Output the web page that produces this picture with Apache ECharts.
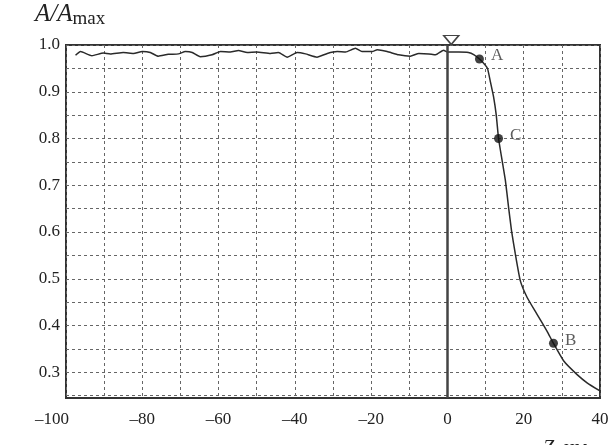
<!DOCTYPE html>
<html>
<head>
<meta charset="utf-8">
<script src="https://cdn.jsdelivr.net/npm/echarts@6/dist/echarts.min.js"></script>
<style>
  html, body { margin: 0; padding: 0; background: #fff; }
  #chart { width: 615px; height: 445px; }
</style>
</head>
<body>
<div id="chart"></div>
<script>
// noisy plateau before the edge, then the fall-off
const zValues = [-97.5, -96.2, -93.2, -90.2, -88.4, -85, -82.3, -80, -77.9, -75.8, -73.2, -70.5, -68.7, -66.9,
  -64.8, -61.7, -59.5, -56.9, -54.8, -52.5, -50, -46.4, -44.3, -42, -39.4, -37.2, -34.2, -31.5, -28.9, -26.7,
  -24.1, -22.4, -19.7, -18.4, -15.8, -12.8, -9.7, -7.5, -4.9, -3.1, -1, 0,
  3, 5.5, 7, 8.4, 9.6, 10.5, 11.3, 12.1, 12.8, 13.4, 14.3, 15.2, 16, 16.8, 17.8, 19.1, 20.9, 23.5, 26.1,
  27.8, 30.5, 34.0, 36.7, 40];
const ampValues = [0.978, 0.986, 0.977, 0.983, 0.981, 0.984, 0.982, 0.986, 0.984, 0.976, 0.980, 0.981, 0.986, 0.984,
  0.975, 0.979, 0.986, 0.985, 0.988, 0.984, 0.985, 0.982, 0.984, 0.974, 0.984, 0.981, 0.974, 0.982, 0.986, 0.985,
  0.993, 0.986, 0.986, 0.990, 0.986, 0.979, 0.976, 0.982, 0.981, 0.979, 0.989, 0.985,
  0.985, 0.984, 0.979, 0.970, 0.960, 0.950, 0.920, 0.889, 0.850, 0.800, 0.755, 0.710, 0.655, 0.603, 0.553,
  0.496, 0.460, 0.424, 0.388, 0.362, 0.324, 0.295, 0.277, 0.260];

const pointNames = ['A', 'C', 'B'];
const pointZ = [8.4, 13.4, 27.8];
const pointAmp = [0.970, 0.800, 0.362];

const yLabels = [0.3, 0.4, 0.5, 0.6, 0.7, 0.8, 0.9, 1.0];
const yGrid = [0.25, 0.3, 0.35, 0.4, 0.45, 0.5, 0.55, 0.6, 0.65, 0.7, 0.75, 0.8, 0.85, 0.9, 0.95, 1.0];

const serif = '"Liberation Serif", "DejaVu Serif", serif';

const chart = echarts.init(document.getElementById('chart'));
chart.setOption({
  backgroundColor: '#fff',
  animation: false,
  grid: {
    left: 66, right: 15, top: 45, bottom: 47,
    show: true,
    borderColor: '#333',
    borderWidth: 2,
    backgroundColor: '#fff'
  },
  xAxis: {
    type: 'value',
    min: -100, max: 40, interval: 10,
    axisLine: { show: false },
    axisTick: { show: false },
    axisLabel: {
      margin: 13,
      color: '#222',
      fontFamily: serif,
      fontSize: 17,
      formatter: v => {
        if (v % 20 !== 0) return '';
        if (v === -100) return '{r|\u2013100}';
        return v < 0 ? '\u2013' + (-v) : String(v);
      },
      rich: { r: { fontFamily: serif, fontSize: 17, color: '#222', padding: [0, 28, 0, 0] } }
    },
    splitLine: { lineStyle: { color: '#666', type: [3, 3], width: 1 } }
  },
  yAxis: {
    type: 'value',
    min: 0.245, max: 1.0,
    axisLine: { show: false },
    axisTick: { show: true, length: 3, customValues: yGrid, lineStyle: { color: '#555' } },
    axisLabel: {
      customValues: yLabels,
      margin: 6,
      color: '#222',
      fontFamily: serif,
      fontSize: 17,
      formatter: v => v.toFixed(1)
    },
    splitLine: { lineStyle: { color: '#666', type: [3, 3], width: 1 } }
  },
  series: [
    {
      type: 'line',
      data: zValues.map((z, i) => [z, ampValues[i]]),
      showSymbol: false,
      smooth: 0.15,
      lineStyle: { color: '#2a2a2a', width: 1.5 },
      markLine: {
        silent: true,
        symbol: 'none',
        label: { show: false },
        lineStyle: { color: '#444', width: 2.5, type: 'solid' },
        data: [{ xAxis: 0 }]
      },
      markPoint: {
        silent: true,
        symbol: 'triangle',
        symbolSize: [15, 9],
        symbolRotate: 180,
        symbolOffset: [0, -5],
        itemStyle: { color: '#fff', borderColor: '#444', borderWidth: 1.5 },
        label: { show: false },
        data: [{ coord: [1, 1.0] }]
      },
      z: 3
    },
    {
      type: 'scatter',
      data: pointZ.map((z, i) => ({ name: pointNames[i], value: [z, pointAmp[i]] })),
      symbolSize: 9,
      itemStyle: { color: '#111' },
      label: {
        show: true,
        position: 'right',
        distance: 7,
        formatter: p => p.name,
        color: '#333',
        fontFamily: serif,
        fontSize: 17,
        offset: [0, -3]
      },
      z: 4
    }
  ],
  graphic: [
    {
      type: 'text', left: 35, top: 2,
      style: {
        text: '{i|A/A}{s|max}',
        rich: {
          i: { fontFamily: serif, fontStyle: 'italic', fontSize: 25, fill: '#222' },
          s: { fontFamily: serif, fontSize: 19, fill: '#222', padding: [10, 0, 0, 0] }
        }
      }
    },
    {
      type: 'text', left: 543, top: 439,
      style: {
        text: '{i|Z}, нм',
        font: '20px ' + serif,
        fill: '#222',
        rich: { i: { fontFamily: serif, fontStyle: 'italic', fontSize: 20, fill: '#222' } }
      }
    }
  ]
});
</script>
</body>
</html>
